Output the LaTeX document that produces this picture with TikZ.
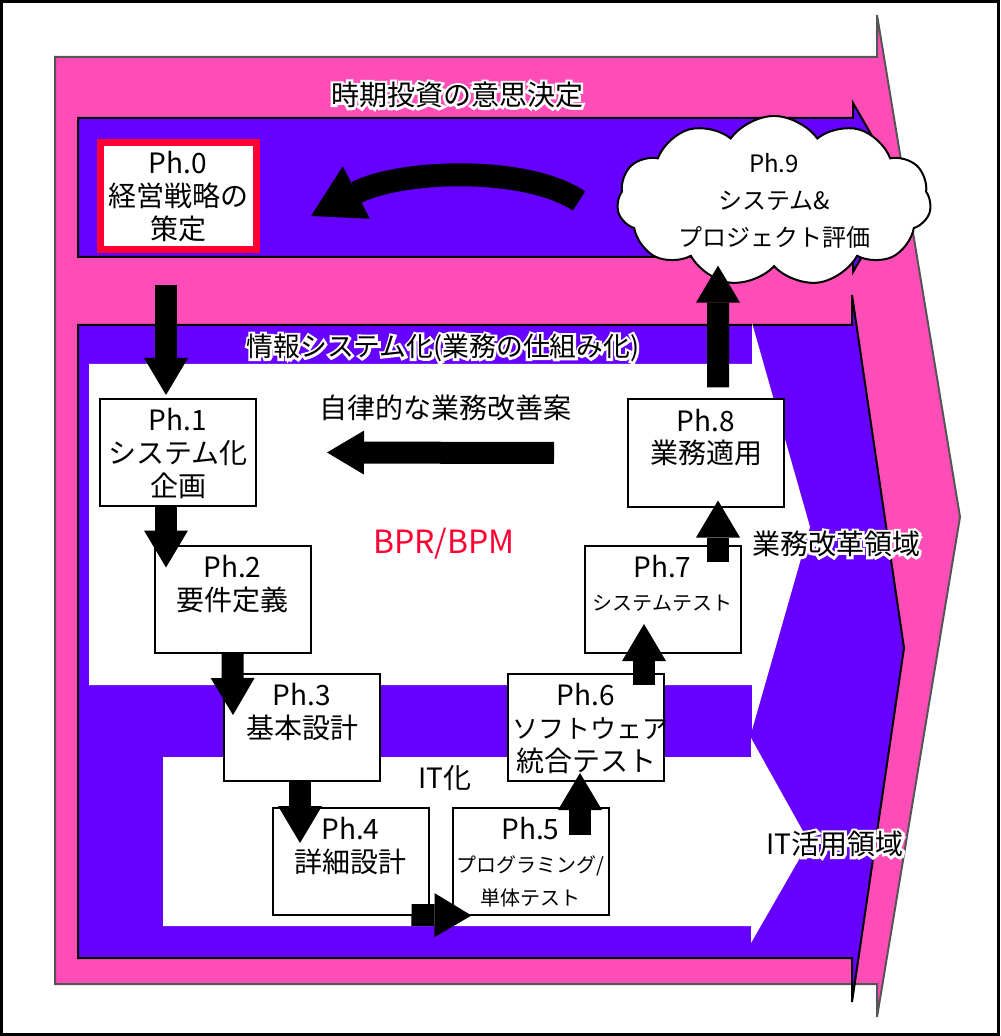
\documentclass[tikz,border=0pt]{standalone}
\usepackage{fontspec}
\setmainfont{Noto Sans CJK JP}
\newfontfamily\halofont{Noto Sans CJK JP}[FakeBold=18]
\usetikzlibrary{arrows.meta,shapes.symbols}
\definecolor{bandpink}{RGB}{255,77,184}
\definecolor{bandviolet}{RGB}{102,0,255}
\definecolor{goalred}{RGB}{255,0,51}
\definecolor{bandgray}{RGB}{85,85,85}
\newcommand{\phlines}[1]{\parbox[c][50pt][t]{74pt}{\centering\fontsize{14pt}{16.5pt}\selectfont\rule{0pt}{14pt}#1}}
\newcommand{\phsmall}{\fontsize{10pt}{16.5pt}\selectfont}
\newcommand{\halo}[1]{\rlap{\textcolor{white}{\halofont #1}}#1}
\tikzset{
  pinkband/.style={fill=bandpink,draw=bandgray,line width=1pt},
  violetband/.style={fill=bandviolet,draw=black,line width=1pt},
  phase/.style={draw,fill=white,line width=1pt,minimum width=78pt,minimum height=53.5pt,inner sep=1.5pt},
  goal/.style={phase,draw=goalred,line width=3.5pt},
  review/.style={cloud,draw,fill=white,line width=1pt,cloud puffs=11,cloud puff arc=110,aspect=2,
    minimum width=157pt,minimum height=78pt,inner sep=0pt,align=center,font=\fontsize{12pt}{18.5pt}\selectfont},
  tag/.style={inner sep=0pt},
  blockarrow/.style={line width=11pt,->},
  swing/.style={line width=11.5pt,-{Triangle[length=25.5pt,width=29.5pt,line width=0pt]}}
}

\begin{document}
\begin{tikzpicture}[x=0.5pt,y=-0.5pt,>={Triangle[length=18.5pt,width=22pt,line width=0pt]},font=\fontsize{14pt}{16.5pt}\selectfont]
  \useasboundingbox (0,0) rectangle (1000,1036);
  \draw[line width=1.5pt] (1.5,1.5) rectangle (998.5,1034.5);

  \draw[pinkband] (55,57) -- (877,57) -- (877,15) -- (960,517) -- (877,1017) -- (877,984) -- (55,984) -- cycle;
  \draw[violetband] (78,118) -- (853,118) -- (853,103) -- (902,188) -- (853,272) -- (853,257) -- (78,257) -- cycle;
  \draw[violetband] (78,325) -- (852,325) -- (852,295) -- (904,648) -- (852,1002) -- (852,958) -- (78,958) -- cycle;
  \fill[white] (89,364) -- (752,364) -- (752,323) -- (810,527) -- (752,730) -- (752,685) -- (89,685) -- cycle;
  \fill[white] (163,757) -- (751,757) -- (751,738) -- (809,842) -- (751,943) -- (751,926) -- (163,926) -- cycle;

  \node[tag] (invest) at (457,95) {\halo{時期投資の意思決定}};
  \node[tag,font=\fontsize{13.4pt}{16pt}\selectfont] (infosys) at (443,348) {\halo{情報システム化(業務の仕組み化)}};
  \node[tag] (reform) at (836,544) {\halo{業務改革領域}};
  \node[tag] (itarea) at (835,844) {\halo{IT活用領域}};
  \node[tag] (kaizen) at (445,408) {自律的な業務改善案};
  \node[tag,text=goalred,font=\fontsize{16pt}{17pt}\selectfont] (bpr) at (444,544) {BPR/BPM};
  \node[tag] (itka) at (445,778) {IT化};

  \node[goal] (ph0) at (178,196) {\phlines{Ph.0\\経営戦略の\\策定}};
  \node[phase] (ph1) at (178,452.5) {\phlines{Ph.1\\システム化\\企画}};
  \node[phase] (ph2) at (232.5,599) {\phlines{Ph.2\\要件定義}};
  \node[phase] (ph3) at (302,727.5) {\phlines{Ph.3\\基本設計}};
  \node[phase] (ph4) at (350.5,861.5) {\phlines{Ph.4\\詳細設計}};
  \node[phase] (ph5) at (530.5,861) {\phlines{Ph.5\\{\phsmall プログラミング/}\\{\phsmall 単体テスト}}};
  \node[phase] (ph6) at (586,727.5) {\phlines{Ph.6\\{\fontsize{13pt}{16.5pt}\selectfont ソフトウェア}\\統合テスト}};
  \node[phase] (ph7) at (662.5,599.5) {\phlines{Ph.7\\{\phsmall システムテスト}}};
  \node[phase] (ph8) at (706,453) {\phlines{Ph.8\\業務適用}};
  \node[review] (ph9) at (774,201) {Ph.9\\システム\&\\プロジェクト評価};

  \coordinate (swingfrom) at (579,201);
  \coordinate (swingto) at (311,216);
  \draw[swing] (swingfrom) .. controls (525,165) and (400,170) .. (swingto);

  \draw[blockarrow] ([shift={(-12,32)}]ph0.south) -- ([shift={(-12,-3)}]ph1.north);
  \draw[blockarrow] ([shift={(-12,0)}]ph1.south) -- ([shift={(-66.5,23)}]ph2.north);
  \draw[blockarrow] (ph2.south) -- ([shift={(-69,42)}]ph3.north);
  \draw[blockarrow] ([shift={(-2,0)}]ph3.south) -- ([shift={(-50.5,36)}]ph4.north);
  \draw[blockarrow] ([shift={(-18,-1)}]ph4.south east) -- ([shift={(20,0)}]ph5.south west);
  \draw[blockarrow] ([shift={(49.5,28)}]ph5.north) -- ([shift={(-6,-9)}]ph6.south);
  \draw[blockarrow] ([shift={(58,12)}]ph6.north) -- ([shift={(-18.5,-30)}]ph7.south);
  \draw[blockarrow] ([shift={(55.5,17)}]ph7.north) -- ([shift={(12,-7)}]ph8.south);
  \draw[blockarrow] ([shift={(12,-11)}]ph8.north) -- ([shift={(-56,-2)}]ph9.south);
  \draw[blockarrow] ([shift={(-73,0)}]ph8.west) -- ([shift={(70,0)}]ph1.east);
\end{tikzpicture}
\end{document}
